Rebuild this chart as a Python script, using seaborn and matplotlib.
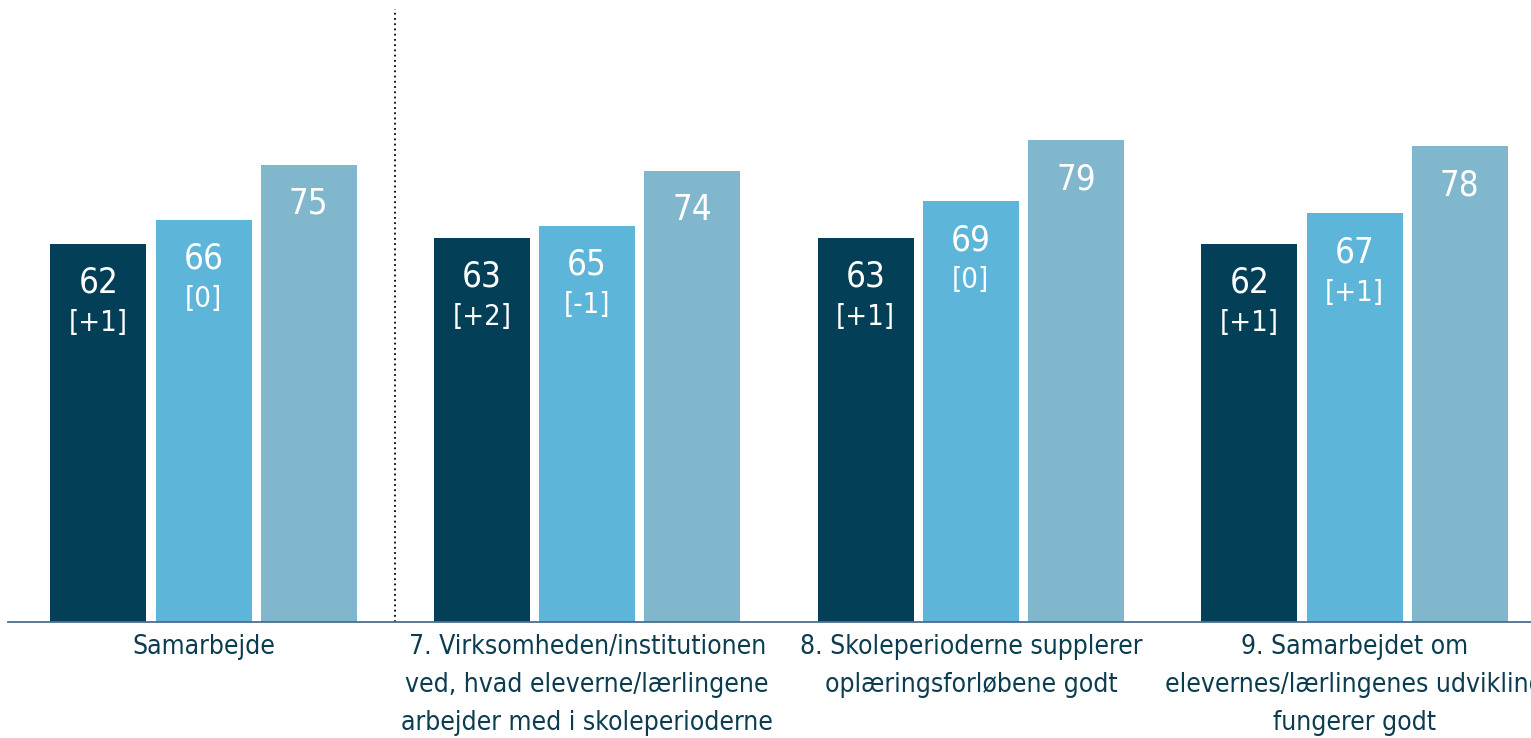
import matplotlib
matplotlib.use("Agg")
import pandas as pd
import seaborn as sns
import matplotlib.pyplot as plt

# data
kategorier = [
    "Samarbejde",
    "7. Virksomheden/institutionen\nved, hvad eleverne/lærlingene\narbejder med i skoleperioderne",
    "8. Skoleperioderne supplerer\noplæringsforløbene godt",
    "9. Samarbejdet om\nelevernes/lærlingenes udvikling\nfungerer godt",
]
grupper = ["Gruppe 1", "Gruppe 2", "Gruppe 3"]
gruppe1 = [62, 63, 63, 62]
gruppe2 = [66, 65, 69, 67]
gruppe3 = [75, 74, 79, 78]
aendring1 = ["+1", "+2", "+1", "+1"]
aendring2 = ["0", "-1", "0", "+1"]
aendring3 = [None, None, None, None]

farver = ["#033F57", "#5EB5DA", "#80B7CC"]
tekstfarve = "#0B3C50"

rows = []
for g, vals in zip(grupper, [gruppe1, gruppe2, gruppe3]):
    for k, v in zip(kategorier, vals):
        rows.append({"kategori": k, "gruppe": g, "andel": v})
df = pd.DataFrame(rows)

sns.set_style("white")
plt.rcParams["font.family"] = ["DejaVu Sans"]
plt.rcParams["font.stretch"] = "condensed"

fig = plt.figure(figsize=(15.31, 7.38), dpi=100)
ax = fig.add_axes([8 / 1531, 116 / 738, 1523 / 1531, 622 / 738])

sns.barplot(data=df, x="kategori", y="andel", hue="gruppe", palette=farver,
            width=0.823, gap=0.088, saturation=1, linewidth=0, legend=False,
            errorbar=None, ax=ax)

ax.set_xlim(-0.5096, 3.46)
ax.set_ylim(0, 102)
ax.set_xlabel("")
ax.set_ylabel("")
ax.set_yticks([])
for s in ["left", "top", "right"]:
    ax.spines[s].set_visible(False)
ax.spines["bottom"].set_color("#4F6D8F")
ax.spines["bottom"].set_linewidth(1.3)
ax.tick_params(axis="x", length=0, pad=9, labelsize=19, labelcolor=tekstfarve)
for t in ax.get_xticklabels():
    t.set_linespacing(1.58)
    t.set_fontstretch("condensed")

# value labels + change in brackets
for cont, aendr in zip(ax.containers, [aendring1, aendring2, aendring3]):
    for bar, a in zip(cont, aendr):
        x = bar.get_x() + bar.get_width() / 2
        h = bar.get_height()
        ax.annotate(f"{h:.0f}", (x, h), xytext=(0, -28), textcoords="offset points",
                    ha="center", va="center", color="white", fontsize=25,
                    fontstretch="condensed")
        if a is not None:
            ax.annotate(f"[{a}]", (x, h), xytext=(0, -57), textcoords="offset points",
                        ha="center", va="center", color="white", fontsize=21,
                        fontstretch="condensed")

# dotted divider between total and items
ax.axvline(0.5, ymin=0, ymax=100.6 / 102, color="black", lw=1.3,
           linestyle=(0, (1, 1.9)))

fig.savefig("out.png", dpi=100)
